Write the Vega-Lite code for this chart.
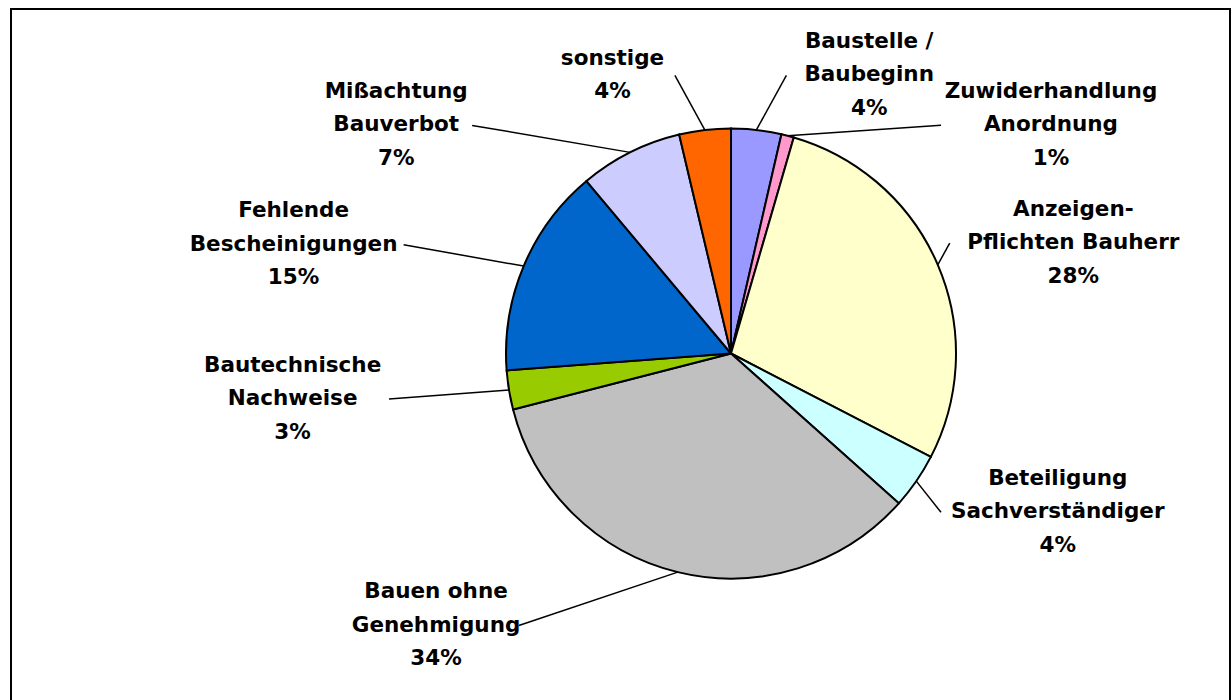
{
  "$schema": "https://vega.github.io/schema/vega-lite/v6.json",
  "width": 1219,
  "height": 696,
  "autosize": {"type": "none"},
  "padding": {"left": 11, "top": 9, "right": 2, "bottom": -5},
  "background": "white",
  "config": {"view": {"stroke": "black", "strokeWidth": 2, "fill": "white"}},
  "data": {
    "values": [
      {"category": "Baustelle /\nBaubeginn", "share": 3.6},
      {"category": "Zuwiderhandlung\nAnordnung", "share": 0.9},
      {"category": "Anzeigen-\nPflichten Bauherr", "share": 28.1},
      {"category": "Beteiligung\nSachverständiger", "share": 4.0},
      {"category": "Bauen ohne\nGenehmigung", "share": 34.4},
      {"category": "Bautechnische\nNachweise", "share": 2.8},
      {"category": "Fehlende\nBescheinigungen", "share": 15.1},
      {"category": "Mißachtung\nBauverbot", "share": 7.4},
      {"category": "sonstige", "share": 3.7}
    ]
  },
  "transform": [
    {"window": [{"op": "row_number", "as": "rank"}]},
    {"joinaggregate": [{"op": "sum", "field": "share", "as": "total"}]},
    {"window": [{"op": "sum", "field": "share", "as": "cum"}], "sort": [{"field": "rank"}], "frame": [null, 0]},
    {"calculate": "2*PI*(datum.cum - datum.share/2)/datum.total", "as": "mid"},
    {"calculate": "225*sin(datum.mid)", "as": "ex"},
    {"calculate": "225*cos(datum.mid)", "as": "ey"},
    {"calculate": "sin(datum.mid) >= 0 ? 1 : -1", "as": "side"},
    {"calculate": "abs(sin(datum.mid)) < 0.2", "as": "isTop"},
    {"calculate": "datum.isTop ? 50 : 104", "as": "h"},
    {"calculate": "280*cos(datum.mid)", "as": "y0"},
    {"window": [{"op": "sum", "field": "h", "as": "hsum"}], "groupby": ["side"], "sort": [{"field": "y0", "order": "descending"}], "frame": [null, 0]},
    {"calculate": "datum.hsum - datum.h", "as": "g"},
    {"calculate": "datum.y0 + datum.g", "as": "t"},
    {"window": [{"op": "min", "field": "t", "as": "tmin"}], "groupby": ["side"], "sort": [{"field": "y0", "order": "descending"}], "frame": [null, 0]},
    {"calculate": "datum.tmin - datum.g", "as": "ay"},
    {"calculate": "datum.isTop ? datum.side*(abs(datum.ex) + 30) : datum.side*max(210, sqrt(max(0, pow(datum.side > 0 ? 245 : 345, 2) - pow(datum.ay, 2))))", "as": "ax"},
    {"calculate": "max(length(split(datum.category, '\\n')[0]), length(split(datum.category, '\\n')[1] || ''))", "as": "nchar"},
    {"calculate": "datum.ax + datum.side*(datum.nchar*6.8 + 8)", "as": "lx"},
    {"calculate": "datum.category + '\\n' + format(datum.share/datum.total, '.0%')", "as": "label"},
    {"calculate": "datum.ay + (length(split(datum.label, '\\n')) - 1)*33.5/2", "as": "ly"}
  ],
  "layer": [
    {
      "mark": {"type": "arc", "radius": 225, "stroke": "black", "strokeWidth": 2},
      "encoding": {
        "theta": {"field": "share", "type": "quantitative", "stack": true},
        "order": {"field": "rank", "type": "quantitative"},
        "color": {
          "field": "category",
          "type": "nominal",
          "legend": null,
          "scale": {
            "domain": ["Baustelle /\nBaubeginn", "Zuwiderhandlung\nAnordnung", "Anzeigen-\nPflichten Bauherr", "Beteiligung\nSachverständiger", "Bauen ohne\nGenehmigung", "Bautechnische\nNachweise", "Fehlende\nBescheinigungen", "Mißachtung\nBauverbot", "sonstige"],
            "range": ["#9999FF", "#FF99CC", "#FFFFCC", "#CCFFFF", "#C0C0C0", "#99CC00", "#0066CC", "#CCCCFF", "#FF6600"]
          }
        },
        "x": {"datum": 0, "type": "quantitative", "axis": null, "scale": {"domain": [-720, 499], "nice": false, "zero": false}},
        "y": {"datum": 0, "type": "quantitative", "axis": null, "scale": {"domain": [-351.5, 344.5], "nice": false, "zero": false}}
      }
    },
    {
      "mark": {"type": "rule", "stroke": "black", "strokeWidth": 1.5},
      "encoding": {
        "x": {"field": "ex", "type": "quantitative"},
        "y": {"field": "ey", "type": "quantitative"},
        "x2": {"field": "ax"},
        "y2": {"field": "ay"}
      }
    },
    {
      "mark": {"type": "text", "font": "DejaVu Sans", "fontWeight": "bold", "fontSize": 21.5, "lineHeight": 33.5, "lineBreak": "\n", "align": "center", "baseline": "middle", "fill": "black"},
      "encoding": {
        "x": {"field": "lx", "type": "quantitative"},
        "y": {"field": "ly", "type": "quantitative"},
        "text": {"field": "label"}
      }
    }
  ]
}
